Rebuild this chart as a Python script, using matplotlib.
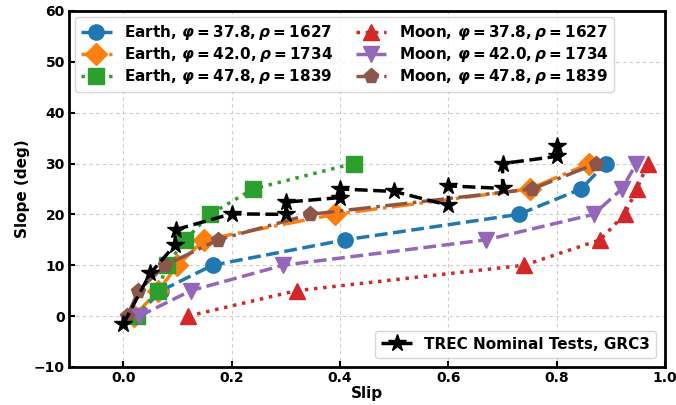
import matplotlib
matplotlib.use('Agg')
import matplotlib.pyplot as plt

plt.rcParams['font.family'] = 'DejaVu Sans'
plt.rcParams['font.weight'] = 'bold'
plt.rcParams['mathtext.fontset'] = 'custom'
plt.rcParams['mathtext.rm'] = 'DejaVu Sans:bold'
plt.rcParams['mathtext.it'] = 'DejaVu Sans:italic:bold'
plt.rcParams['mathtext.bf'] = 'DejaVu Sans:bold'

# slope levels tested for each soil (deg)
slopes = [0, 5, 10, 15, 20, 25, 30]

# slip at each slope level
earth_378 = [0.025, 0.07, 0.165, 0.41, 0.73, 0.845, 0.89]
earth_420 = [0.02, 0.065, 0.10, 0.15, 0.39, 0.75, 0.86]
earth_478_slip = [0.025, 0.065, 0.08, 0.115, 0.16, 0.24, 0.425]
moon_378 = [0.12, 0.32, 0.74, 0.88, 0.925, 0.948, 0.968]
moon_420 = [0.03, 0.125, 0.295, 0.67, 0.868, 0.92, 0.947]
moon_478 = [0.008, 0.028, 0.078, 0.175, 0.345, 0.755, 0.873]

# TREC nominal tests
trec_slip = [0.0, 0.05, 0.095, 0.097, 0.2, 0.3, 0.3, 0.4, 0.4, 0.5,
             0.6, 0.6, 0.7, 0.7, 0.8, 0.8]
trec_slope = [-1.6, 8.4, 13.9, 17.0, 20.1, 20.0, 22.4, 23.3, 25.0, 24.5,
              21.8, 25.6, 25.1, 30.0, 31.4, 33.5]

fig, ax = plt.subplots(figsize=(6.76, 4.05), dpi=100)
fig.subplots_adjust(left=0.102, right=0.984, top=0.973, bottom=0.094)

lw = 2.5
ms = 11
h1, = ax.plot(earth_378, slopes, 'o--', color='C0', lw=lw, ms=ms,
              label=r'Earth, $\varphi = 37.8, \rho = 1627$')
h2, = ax.plot(earth_420, slopes, 'D-.', color='C1', lw=lw, ms=ms,
              label=r'Earth, $\varphi = 42.0, \rho = 1734$')
h3, = ax.plot(earth_478_slip, slopes, 's:', color='C2', lw=lw, ms=ms,
              label=r'Earth, $\varphi = 47.8, \rho = 1839$')
h4, = ax.plot(moon_378, slopes, '^:', color='C3', lw=lw, ms=ms,
              label=r'Moon, $\varphi = 37.8, \rho = 1627$')
h5, = ax.plot(moon_420, slopes, 'v--', color='C4', lw=lw, ms=ms,
              label=r'Moon, $\varphi = 42.0, \rho = 1734$')
h6, = ax.plot(moon_478, slopes, 'p-.', color='C5', lw=lw, ms=ms,
              label=r'Moon, $\varphi = 47.8, \rho = 1839$')
h7, = ax.plot(trec_slip, trec_slope, '*--', color='black', lw=lw, ms=13,
              label='TREC Nominal Tests, GRC3')

ax.set_xlim(-0.1, 1.0)
ax.set_ylim(-10, 60)
ax.set_xlabel('Slip', fontsize=11, fontweight='bold', labelpad=1)
ax.set_ylabel('Slope (deg)', fontsize=11, fontweight='bold', labelpad=3)
ax.tick_params(direction='in', labelsize=10, width=1.5, length=4, pad=3)
for lab in ax.get_xticklabels() + ax.get_yticklabels():
    lab.set_fontweight('bold')
for sp in ax.spines.values():
    sp.set_linewidth(2)
ax.grid(True, linestyle=(0, (3, 3)), color='#cccccc', lw=0.8)

leg1 = ax.legend(handles=[h1, h2, h3, h4, h5, h6], ncol=2, loc='upper left',
                 fontsize=11, handlelength=2.0, labelspacing=0.2,
                 columnspacing=1.5, borderaxespad=0.4)
ax.add_artist(leg1)
ax.legend(handles=[h7], loc='lower right', fontsize=11, borderaxespad=0.6)

fig.savefig('out.png', dpi=100)
